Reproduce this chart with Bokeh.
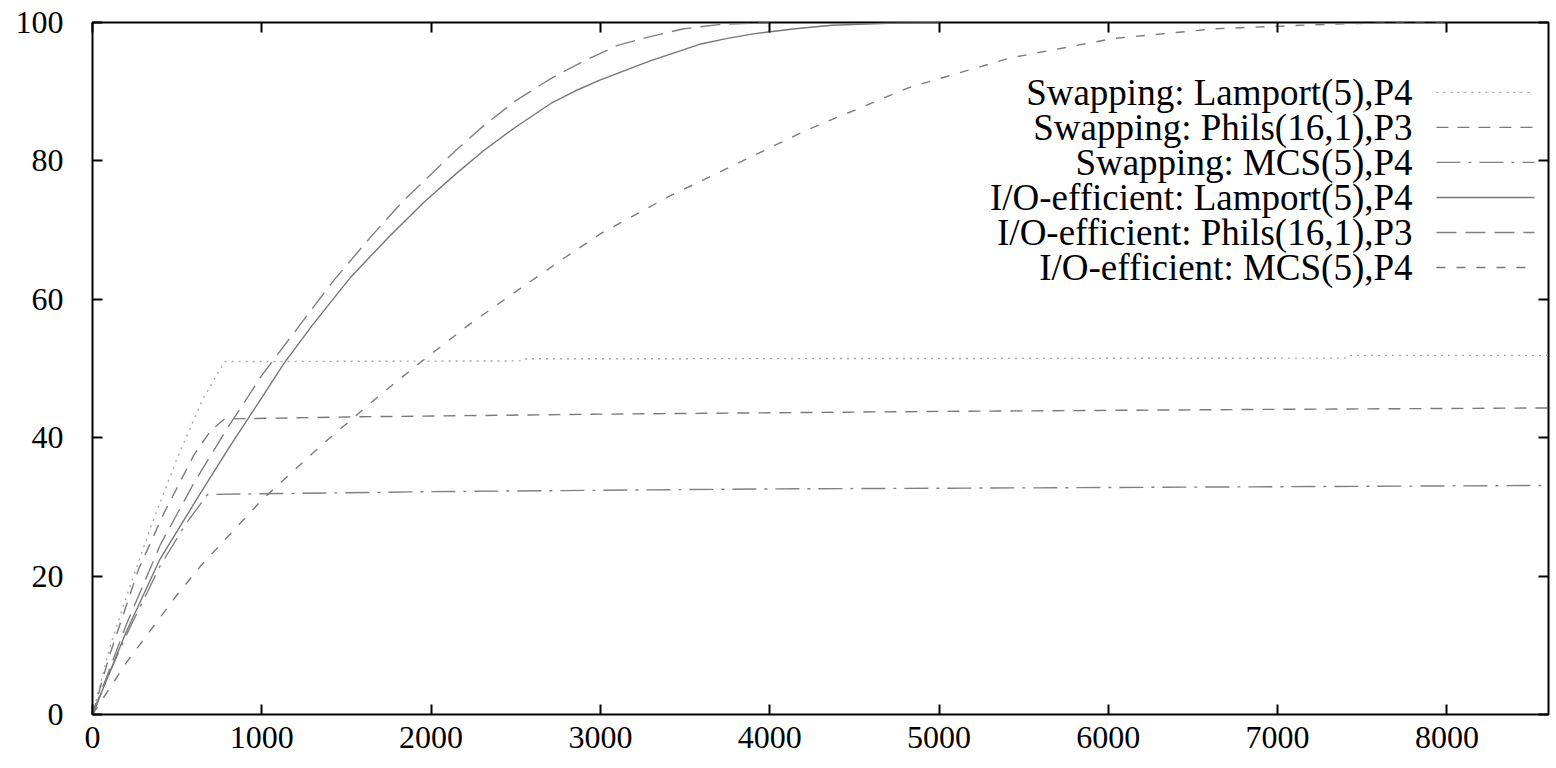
from bokeh.plotting import figure
from bokeh.models import (Range1d, LinearAxis, SingleIntervalTicker, Label, Arrow,
                          CustomJSTickFormatter)
from bokeh.embed import file_html
from bokeh.resources import INLINE

# ---------------- data ----------------
swap_lamport_x = [0, 100, 200, 350, 500, 650, 780, 2540, 2560, 7400, 7420, 8600]
swap_lamport_y = [0, 9.5, 17, 27.5, 37, 45.5, 51, 51.1, 51.4, 51.5, 51.9, 51.9]

swap_phils_x = [0, 100, 272, 420, 597, 697, 780, 1500, 3000, 5000, 7000, 8600]
swap_phils_y = [0, 8.5, 21, 29, 37.4, 41, 42.7, 43.0, 43.4, 43.8, 44.1, 44.3]

swap_mcs_x = [0, 100, 200, 400, 550, 680, 2000, 4000, 6000, 8600]
swap_mcs_y = [0, 6, 11.5, 21.5, 27.5, 31.8, 32.2, 32.6, 32.8, 33.1]

io_lamport_x = [0, 100, 200, 400, 600, 800, 1000, 1130, 1300, 1525, 1750, 1956, 2150,
                2311, 2500, 2707, 2850, 3000, 3298, 3458, 3594, 3750, 3912, 4150,
                4367, 4700, 5000]
io_lamport_y = [0, 6, 12, 22.5, 30.5, 38.3, 45.8, 50.7, 56.3, 63.2, 69, 74, 78.2,
                81.5, 84.9, 88.3, 90.1, 91.7, 94.5, 95.8, 96.9, 97.7, 98.4, 99.1,
                99.6, 99.9, 100]

io_phils_x = [0, 100, 200, 400, 600, 800, 1000, 1052, 1250, 1424, 1650, 1838, 1980,
              2150, 2311, 2500, 2707, 2900, 3102, 3300, 3493, 3700, 4000]
io_phils_y = [0, 6.5, 13, 24.5, 33.5, 41.5, 49, 50.7, 57.1, 62.7, 69.2, 74.3, 77.6,
              81.6, 85.1, 88.7, 91.9, 94.4, 96.7, 98.0, 99.1, 99.7, 100]

io_mcs_x = [0, 200, 500, 640, 1000, 1365, 1700, 1938, 2216, 2511, 2807, 3002, 3415,
            3612, 4213, 4823, 5424, 6033, 6635, 7245, 7700, 8000]
io_mcs_y = [0, 7.5, 17.3, 21.5, 31, 39.2, 46.2, 50.9, 56.2, 61.3, 66.3, 69.5, 75,
            77.3, 84.4, 90.6, 94.9, 97.7, 99.1, 99.7, 100, 100]

labels = ["Swapping: Lamport(5),P4", "Swapping: Phils(16,1),P3", "Swapping: MCS(5),P4",
          "I/O-efficient: Lamport(5),P4", "I/O-efficient: Phils(16,1),P3",
          "I/O-efficient: MCS(5),P4"]

x_max = 8600
y_max = 100

series = [
    (swap_lamport_x, swap_lamport_y, "#a8a8a8", "2 5", 1.4),
    (swap_phils_x, swap_phils_y, "#7a7a7a", "12 9", 1.4),
    (swap_mcs_x, swap_mcs_y, "#808080", "24 8 3 8", 1.4),
    (io_lamport_x, io_lamport_y, "#777777", "solid", 1.4),
    (io_phils_x, io_phils_y, "#808080", "20 9", 1.4),
    (io_mcs_x, io_mcs_y, "#7a7a7a", "9 11", 1.4),
]

FONT = "Liberation Serif"

p = figure(width=1552, height=766, output_backend="svg", toolbar_location=None,
           x_range=Range1d(0, x_max), y_range=Range1d(0, y_max),
           min_border_left=92, min_border_right=4, min_border_top=22,
           min_border_bottom=52, x_axis_location="below", y_axis_location="left")
p.background_fill_color = "white"
p.border_fill_color = "white"
p.outline_line_color = "black"
p.outline_line_width = 2
p.xgrid.visible = False
p.ygrid.visible = False

for xs, ys, col, dash, lw in series:
    p.line(xs, ys, line_color=col, line_dash=dash, line_width=lw)


def style_axis(ax, ticker, show_labels, standoff, size):
    ax.ticker = ticker
    ax.axis_line_color = None
    ax.major_tick_in = 10
    ax.major_tick_out = 0
    ax.major_tick_line_color = "black"
    ax.major_tick_line_width = 2
    ax.minor_tick_in = 0
    ax.minor_tick_out = 0
    ax.major_label_text_font = FONT
    ax.major_label_text_color = "black"
    ax.major_label_standoff = standoff
    if show_labels:
        ax.major_label_text_font_size = size
    else:
        ax.formatter = CustomJSTickFormatter(code="return ''")
        ax.major_label_text_font_size = "1px"
        ax.major_label_standoff = 0


style_axis(p.xaxis[0], SingleIntervalTicker(interval=1000, num_minor_ticks=0), True, 12, "32px")
style_axis(p.yaxis[0], SingleIntervalTicker(interval=20, num_minor_ticks=0), True, 29, "32px")

top_axis = LinearAxis()
style_axis(top_axis, SingleIntervalTicker(interval=1000, num_minor_ticks=0), False, 0, "1px")
p.add_layout(top_axis, "above")
right_axis = LinearAxis()
style_axis(right_axis, SingleIntervalTicker(interval=20, num_minor_ticks=0), False, 0, "1px")
p.add_layout(right_axis, "right")

# ---------------- legend (text right-aligned, sample on the right) ----------------
leg_text_x = 7797
leg_line_x0 = 7938
leg_line_x1 = 8517
leg_y0 = 89.9
leg_dy = 5.06
for i, (lab, (xs, ys, col, dash, lw)) in enumerate(zip(labels, series)):
    yy = leg_y0 - i * leg_dy
    p.add_layout(Label(x=leg_text_x, y=yy, text=lab, text_align="right",
                       text_baseline="middle", text_font=FONT,
                       text_font_size="37px", text_color="black"))
    p.add_layout(Arrow(x_start=leg_line_x0, y_start=yy, x_end=leg_line_x1, y_end=yy,
                       start=None, end=None, line_color=col, line_dash=dash,
                       line_width=lw))

open("out.html", "w").write(file_html(p, INLINE))
